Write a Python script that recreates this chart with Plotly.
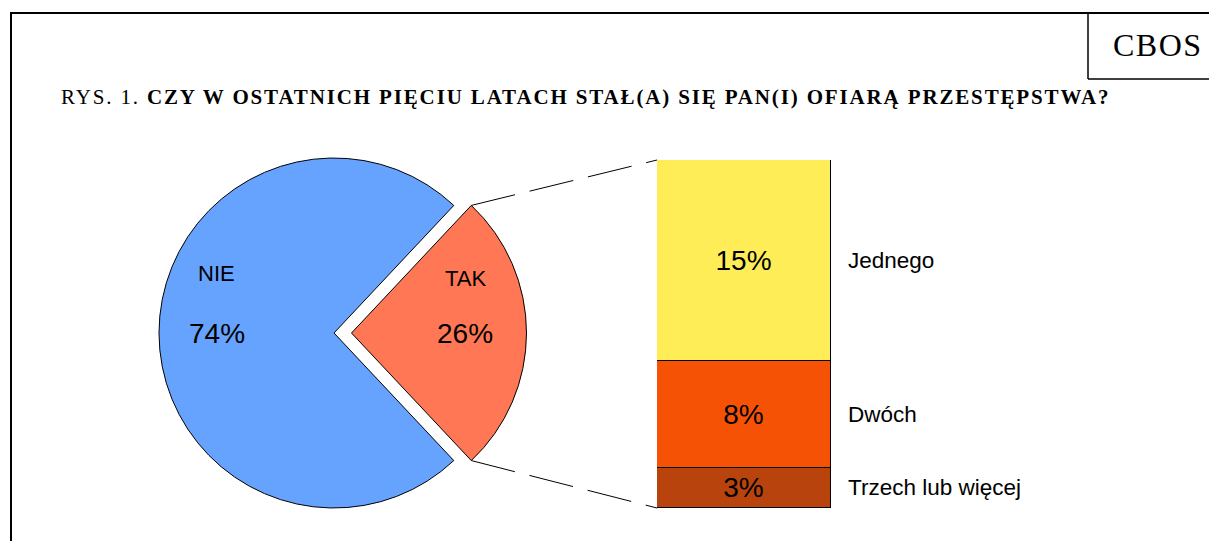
import math
import plotly.graph_objects as go

# ---- data ----
pie_labels = ["TAK", "NIE"]
pie_values = [26, 74]
bar_labels = ["Trzech lub więcej", "Dwóch", "Jednego"]   # bottom -> top
bar_values = [3, 8, 15]
title_prefix = "RYS. 1. "
title_text = "CZY W OSTATNICH PIĘCIU LATACH STAŁ(A) SIĘ PAN(I) OFIARĄ PRZESTĘPSTWA?"
source_text = "CBOS"

# ---- styles ----
pie_colors = ["#FF7755", "#66A3FF"]
bar_colors = ["#B9430C", "#F55205", "#FFED58"]
SANS = "Liberation Sans, Arial, sans-serif"
SERIF = "Liberation Serif, Times New Roman, serif"

W, H = 1209, 541


def fx(x):
    return x / W


def fy(y):
    return 1 - y / H


# pie geometry (pixels)
CX, CY, R, PULL = 334, 333, 175, 0.10
half_box = R * (1 + PULL)
total = sum(pie_values)
half_ang = pie_values[0] / total * 180.0
rotation = 90 - half_ang

# bar geometry (pixels)
BAR_L, BAR_R, BAR_T, BAR_B = 657, 831, 160, 508

fig = go.Figure()

fig.add_trace(go.Pie(
    labels=pie_labels, values=pie_values, sort=False, direction="clockwise",
    rotation=rotation, pull=[PULL, 0],
    marker=dict(colors=pie_colors, line=dict(color="black", width=1)),
    textinfo="none", showlegend=False,
    domain=dict(x=[fx(CX - half_box), fx(CX + half_box)],
                y=[fy(CY + half_box), fy(CY - half_box)]),
))

for lab, val, col in zip(bar_labels, bar_values, bar_colors):
    fig.add_trace(go.Bar(
        x=[0], y=[val], width=[1], name=lab,
        marker=dict(color=col, line=dict(color="black", width=1)),
        text=[f"{val}%"], textposition="inside", insidetextanchor="middle",
        constraintext="none",
        textfont=dict(family=SANS, size=28, color="black"),
        showlegend=False, hoverinfo="name+y",
    ))

annotations = []
# pie labels
apex_x = CX + PULL * R
pie_label_pos = [apex_x + 0.65 * R, CX - 0.67 * R]
pie_name_y = [278, 273]
for lab, val, xpos, ny in zip(pie_labels, pie_values, pie_label_pos, pie_name_y):
    annotations.append(dict(x=fx(xpos), y=fy(ny), xref="paper", yref="paper",
                            xanchor="center", yanchor="middle",
                            text=lab, showarrow=False,
                            font=dict(family=SANS, size=22, color="black")))
    annotations.append(dict(x=fx(xpos), y=fy(CY), xref="paper", yref="paper",
                            xanchor="center", yanchor="middle",
                            text=f"{val}%", showarrow=False,
                            font=dict(family=SANS, size=28, color="black")))

# bar category labels
cum = 0
for lab, val in zip(bar_labels, bar_values):
    annotations.append(dict(x=0.5, y=cum + val / 2, xref="x", yref="y",
                            xanchor="left", yanchor="middle", xshift=15,
                            text=lab, showarrow=False,
                            font=dict(family=SANS, size=22.5, color="black")))
    cum += val

# title and source
annotations.append(dict(
    x=fx(59), y=fy(97), xref="paper", yref="paper", xanchor="left", yanchor="middle",
    text=f'<span style="letter-spacing:1.85px">{title_prefix}<b>{title_text}</b></span>',
    showarrow=False, font=dict(family=SERIF, size=21, color="black")))
annotations.append(dict(
    x=fx(1158), y=fy(45), xref="paper", yref="paper", xanchor="center", yanchor="middle",
    text=f'<span style="letter-spacing:1.5px">{source_text}</span>',
    showarrow=False, font=dict(family=SERIF, size=32, color="black")))

shapes = []
# frame
shapes.append(dict(type="line", xref="paper", yref="paper", x0=fx(11), x1=fx(11),
                   y0=fy(H + 5), y1=fy(13), line=dict(color="black", width=2)))
shapes.append(dict(type="line", xref="paper", yref="paper", x0=fx(10), x1=fx(W + 5),
                   y0=fy(13), y1=fy(13), line=dict(color="black", width=2)))
# CBOS box
shapes.append(dict(type="line", xref="paper", yref="paper", x0=fx(1088), x1=fx(1088),
                   y0=fy(13), y1=fy(79), line=dict(color="black", width=1.5)))
shapes.append(dict(type="line", xref="paper", yref="paper", x0=fx(1088), x1=fx(W + 5),
                   y0=fy(79), y1=fy(79), line=dict(color="black", width=1.5)))

# connectors from the exploded slice edges to the bar corners
for ang, ty in [(rotation, BAR_T), (rotation + 2 * half_ang, BAR_B)]:
    a = math.radians(ang)
    sx = apex_x + R * math.sin(a)
    sy = CY - R * math.cos(a)
    shapes.append(dict(type="line", xref="paper", yref="paper",
                       x0=fx(sx), y0=fy(sy), x1=fx(BAR_L), y1=fy(ty),
                       line=dict(color="black", width=1, dash="45px,15px")))

fig.update_layout(
    width=W, height=H, margin=dict(l=0, r=0, t=0, b=0),
    paper_bgcolor="white", plot_bgcolor="white",
    barmode="stack", bargap=0,
    xaxis=dict(domain=[fx(BAR_L), fx(BAR_R)], range=[-0.5, 0.5], visible=False, fixedrange=True),
    yaxis=dict(domain=[fy(BAR_B), fy(BAR_T)], range=[0, sum(bar_values)], visible=False, fixedrange=True),
    annotations=annotations, shapes=shapes,
)

fig.write_html("out.html", config={"displayModeBar": False},
               post_script="document.body.style.margin='0px'; document.body.style.overflow='hidden';")
